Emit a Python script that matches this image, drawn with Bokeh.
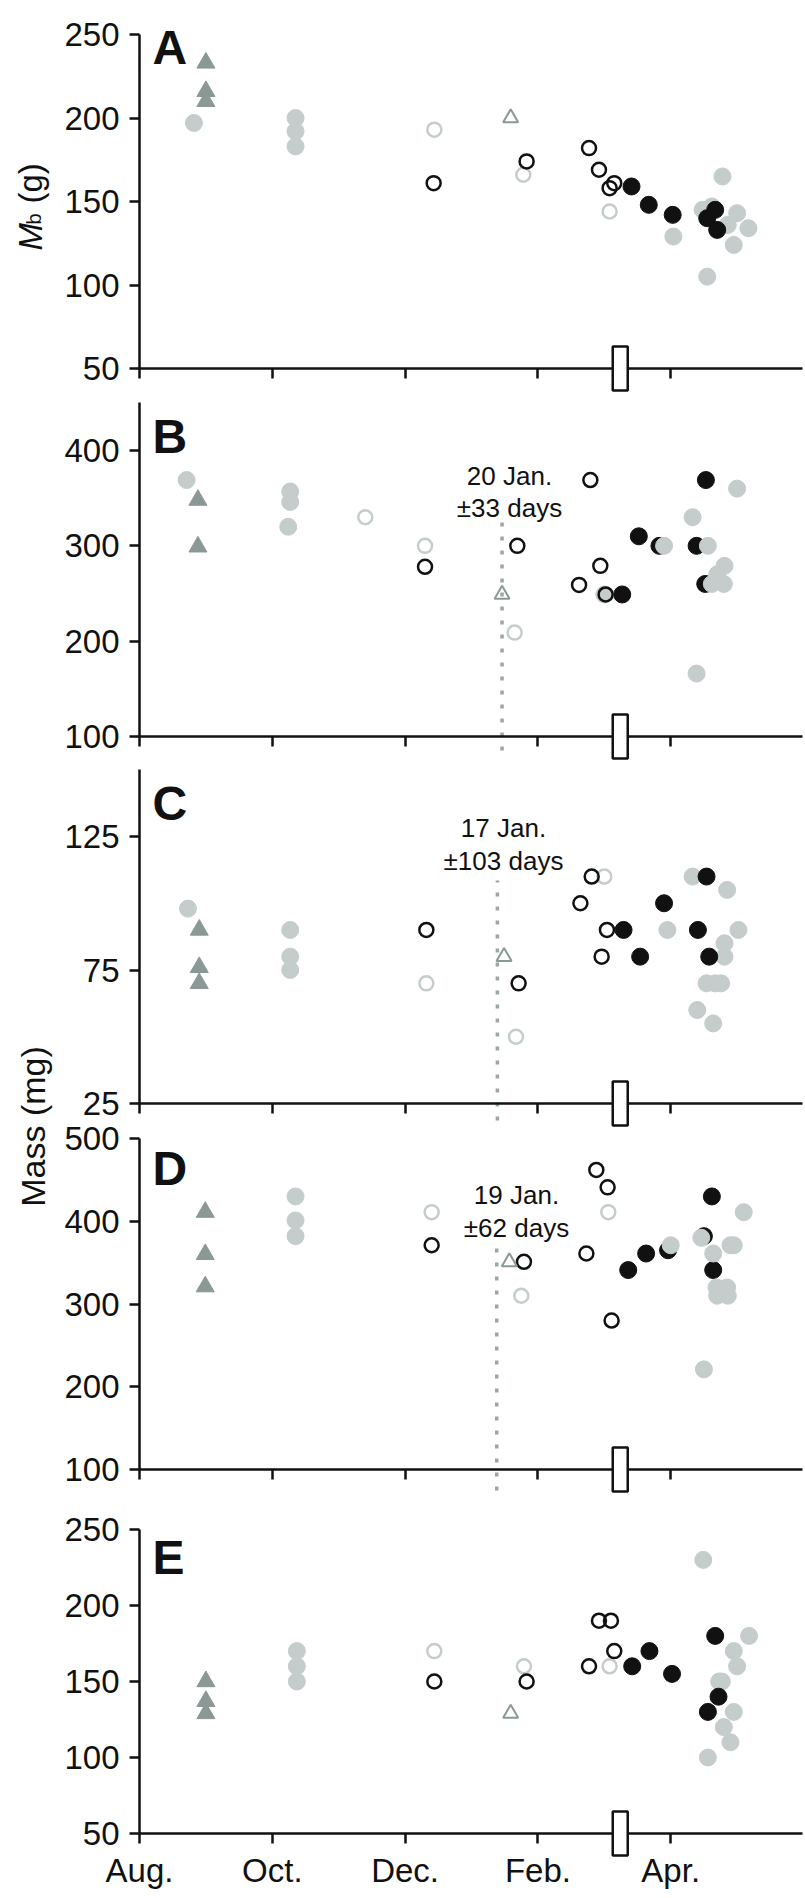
import math
from bokeh.plotting import figure
from bokeh.models import Range1d, LinearAxis, FixedTicker, Label
from bokeh.embed import file_html
from bokeh.resources import INLINE

# ---------------- data (x = months since 1 Aug) ----------------
month_ticks = [0, 2, 4, 6, 8]
month_labels = ["Aug.", "Oct.", "Dec.", "Feb.", "Apr."]
box_month = 7.24

A_tri_x = [1.0, 1.0, 1.0]
A_tri_y = [233, 216, 210]
A_lgf_x = [0.82, 2.35, 2.35, 2.35, 8.04, 8.55, 8.78, 8.48, 8.62, 8.86, 9.0, 9.17, 8.95]
A_lgf_y = [197, 200, 192, 183, 129, 105, 165, 145, 147, 136, 143, 134, 124]
A_lgo_x = [4.44, 5.78, 7.08]
A_lgo_y = [193, 166, 144]
A_bko_x = [4.43, 5.83, 6.77, 6.92, 7.15, 7.08]
A_bko_y = [161, 174, 182, 169, 161, 158]
A_gto_x = [5.59]
A_gto_y = [200]
A_bkf_x = [7.41, 7.67, 8.03, 8.55, 8.67, 8.70]
A_bkf_y = [159, 148, 142, 140, 145, 133]

B_tri_x = [0.88, 0.88]
B_tri_y = [348, 299]
B_lgf_x = [0.71, 2.27, 2.27, 2.24, 7.0, 7.9, 8.33, 8.39, 8.56, 9.0, 8.62, 8.70, 8.81, 8.80]
B_lgf_y = [369, 357, 346, 320, 249, 300, 330, 166, 300, 360, 260, 270, 279, 260]
B_lgo_x = [3.40, 4.30, 5.65]
B_lgo_y = [330, 300, 209]
B_bko_x = [4.30, 5.69, 6.79, 6.94, 6.62, 7.02]
B_bko_y = [278, 300, 369, 279, 259, 249]
B_gto_x = [5.46]
B_gto_y = [249]
B_bkf_x = [7.27, 7.52, 7.83, 8.39, 8.53, 8.52]
B_bkf_y = [249, 310, 300, 300, 369, 260]

C_tri_x = [0.9, 0.9, 0.9]
C_tri_y = [90, 76, 70]
C_lgf_x = [0.73, 2.27, 2.27, 2.27, 8.33, 8.85, 7.95, 9.02, 8.81, 8.81, 8.54, 8.67, 8.76, 8.40, 8.64]
C_lgf_y = [98, 90, 80, 75, 110, 105, 90, 90, 85, 80, 70, 70, 70, 60, 55]
C_lgo_x = [4.32, 5.67, 7.0]
C_lgo_y = [70, 50, 110]
C_bko_x = [4.32, 5.71, 6.81, 6.64, 7.04, 6.96]
C_bko_y = [90, 70, 110, 100, 90, 80]
C_gto_x = [5.49]
C_gto_y = [80]
C_bkf_x = [7.29, 7.54, 7.90, 8.54, 8.41, 8.58]
C_bkf_y = [90, 80, 100, 110, 90, 80]

D_tri_x = [0.99, 0.99, 0.99]
D_tri_y = [411, 360, 321]
D_lgf_x = [2.35, 2.35, 2.35, 8.0, 8.46, 8.5, 8.64, 8.9, 8.95, 9.1, 8.69, 8.85, 8.70, 8.86]
D_lgf_y = [430, 401, 382, 371, 380, 221, 361, 371, 371, 411, 320, 320, 310, 310]
D_lgo_x = [4.4, 5.75, 7.06]
D_lgo_y = [411, 310, 411]
D_bko_x = [4.4, 5.79, 6.88, 7.05, 6.73, 7.11]
D_bko_y = [371, 351, 462, 441, 361, 280]
D_gto_x = [5.57]
D_gto_y = [351]
D_bkf_x = [7.36, 7.63, 7.96, 8.50, 8.62, 8.64]
D_bkf_y = [341, 361, 365, 382, 430, 341]

E_tri_x = [1.0, 1.0, 1.0]
E_tri_y = [150, 137, 129]
E_lgf_x = [2.37, 2.37, 2.37, 8.49, 8.56, 8.73, 8.95, 9.0, 9.18, 8.95, 8.8, 8.9, 8.77]
E_lgf_y = [170, 160, 150, 230, 100, 150, 170, 160, 180, 130, 120, 110, 150]
E_lgo_x = [4.44, 5.79, 7.08]
E_lgo_y = [170, 160, 160]
E_bko_x = [4.44, 5.83, 6.92, 7.1, 7.15, 6.77]
E_bko_y = [150, 150, 190, 190, 170, 160]
E_gto_x = [5.59]
E_gto_y = [129]
E_bkf_x = [7.42, 7.68, 8.02, 8.67, 8.72, 8.56]
E_bkf_y = [160, 170, 155, 180, 140, 130]

ann_panels = ["B", "C", "D"]
ann_x = [5.46, 5.39, 5.38]
ann_date = ["20 Jan.", "17 Jan.", "19 Jan."]
ann_sd = ["\u00b133 days", "\u00b1103 days", "\u00b162 days"]

yticks = {"A": [50, 100, 150, 200, 250], "B": [100, 200, 300, 400],
          "C": [25, 75, 125], "D": [100, 200, 300, 400, 500], "E": [50, 100, 150, 200, 250]}
ybounds = {"A": (50, 250), "B": (100, 450), "C": (25, 150), "D": (100, 500), "E": (50, 250)}

series = {
    "A": dict(tri=(A_tri_x, A_tri_y), lgf=(A_lgf_x, A_lgf_y), lgo=(A_lgo_x, A_lgo_y),
              bko=(A_bko_x, A_bko_y), gto=(A_gto_x, A_gto_y), bkf=(A_bkf_x, A_bkf_y)),
    "B": dict(tri=(B_tri_x, B_tri_y), lgf=(B_lgf_x, B_lgf_y), lgo=(B_lgo_x, B_lgo_y),
              bko=(B_bko_x, B_bko_y), gto=(B_gto_x, B_gto_y), bkf=(B_bkf_x, B_bkf_y)),
    "C": dict(tri=(C_tri_x, C_tri_y), lgf=(C_lgf_x, C_lgf_y), lgo=(C_lgo_x, C_lgo_y),
              bko=(C_bko_x, C_bko_y), gto=(C_gto_x, C_gto_y), bkf=(C_bkf_x, C_bkf_y)),
    "D": dict(tri=(D_tri_x, D_tri_y), lgf=(D_lgf_x, D_lgf_y), lgo=(D_lgo_x, D_lgo_y),
              bko=(D_bko_x, D_bko_y), gto=(D_gto_x, D_gto_y), bkf=(D_bkf_x, D_bkf_y)),
    "E": dict(tri=(E_tri_x, E_tri_y), lgf=(E_lgf_x, E_lgf_y), lgo=(E_lgo_x, E_lgo_y),
              bko=(E_bko_x, E_bko_y), gto=(E_gto_x, E_gto_y), bkf=(E_bkf_x, E_bkf_y)),
}

# ---------------- layout (page pixel geometry; frame = whole canvas) ----------------
W, H = 805, 1896
AXIS_LEFT, AXIS_RIGHT = 139, 802
PX_PER_MONTH = 66.4

# panel calibration: (value_lo, page_y_lo, value_hi, page_y_hi)
calib = {"A": (50, 368, 250, 34), "B": (100, 736, 400, 450), "C": (25, 1103, 125, 836),
         "D": (100, 1469, 500, 1138), "E": (50, 1833, 250, 1529)}


def pv(name, page_y):
    lo, plo, hi, phi = calib[name]
    s = (plo - phi) / (hi - lo)
    return lo + (plo - page_y) / s


def mx(page_x):
    return (page_x - AXIS_LEFT) / PX_PER_MONTH


FONT = "Liberation Sans"
BLACK = "#111111"
LG = "#c5cdcc"
DG = "#8a9896"

p = figure(width=W, height=H, output_backend="svg", toolbar_location=None,
           x_range=Range1d(mx(0), mx(W)), y_range=Range1d(H, 0),
           x_axis_type=None, y_axis_type=None,
           min_border_left=0, min_border_right=0, min_border_top=0, min_border_bottom=0)
p.outline_line_color = None
p.xgrid.visible = False
p.ygrid.visible = False
p.background_fill_color = "white"
p.border_fill_color = "white"

for name in calib:
    p.extra_y_ranges[name] = Range1d(start=pv(name, H), end=pv(name, 0))


def style_axis(ax):
    ax.axis_line_width = 2.5
    ax.axis_line_color = BLACK
    ax.major_tick_line_width = 2.5
    ax.major_tick_line_color = BLACK
    ax.major_tick_out = 10
    ax.major_tick_in = 0
    ax.minor_tick_line_color = None
    ax.major_label_text_font = FONT
    ax.major_label_text_font_size = "33px"
    ax.major_label_text_color = BLACK
    ax.major_label_standoff = 10


XEND = mx(AXIS_RIGHT)
for name in calib:
    ymin, ymax = ybounds[name]
    yax = LinearAxis(y_range_name=name, fixed_location=0, bounds=(ymin, ymax),
                     ticker=FixedTicker(ticks=yticks[name]))
    style_axis(yax)
    p.add_layout(yax, "left")
    xax = LinearAxis(y_range_name=name, fixed_location=ymin, bounds=(0, XEND),
                     ticker=FixedTicker(ticks=month_ticks))
    style_axis(xax)
    if name == "E":
        xax.major_label_overrides = {t: l for t, l in zip(month_ticks, month_labels)}
        xax.major_label_standoff = 8
    else:
        xax.major_label_text_color = None
    p.add_layout(xax, "below")

# dotted mean-date lines and their annotations
line_tops = {"B": 517, "C": 880, "D": 1247}
line_bottoms = {"B": 750, "C": 1120, "D": 1490}
text_pos = {"B": (509, 475, 507), "C": (503, 827, 860), "D": (516, 1194, 1227)}
for name, xd, t1, t2 in zip(ann_panels, ann_x, ann_date, ann_sd):
    p.segment(x0=[xd], x1=[xd], y0=[pv(name, line_bottoms[name])], y1=[pv(name, line_tops[name])],
              y_range_name=name, line_color="#9ba6a6", line_width=3.5, line_dash="4 10")
    cx, b1, b2 = text_pos[name]
    for txt, by in ((t1, b1), (t2, b2)):
        p.add_layout(Label(x=mx(cx), y=by, text=txt, text_align="center",
                           text_baseline="alphabetic", text_font=FONT,
                           text_font_size="26px", text_color=BLACK))

# markers
gray_on_top = {"A": False, "B": True, "C": False, "D": True, "E": False}
for name, s in series.items():
    p.scatter(*s["tri"], y_range_name=name, marker="triangle", size=18,
              fill_color=DG, line_color=DG, line_width=1)
    order = ["bkf", "lgf"] if gray_on_top[name] else ["lgf", "bkf"]
    for key in order:
        col = LG if key == "lgf" else BLACK
        p.scatter(*s[key], y_range_name=name, marker="circle", size=17,
                  fill_color=col, line_color=col, line_width=1)
    p.scatter(*s["lgo"], y_range_name=name, marker="circle", size=14,
              fill_color=None, line_color=LG, line_width=2.5)
    p.scatter(*s["bko"], y_range_name=name, marker="circle", size=14,
              fill_color=None, line_color=BLACK, line_width=2.5)
    p.scatter(*s["gto"], y_range_name=name, marker="triangle", size=15,
              fill_color=None, line_color=DG, line_width=2)
    ymin = ybounds[name][0]
    r = p.rect(x=[box_month], y=[ymin], width=15, height=44, width_units="screen",
               height_units="screen", fill_color="white", line_color=BLACK,
               line_width=2.5, y_range_name=name)
    r.level = "overlay"

# panel letters
letter_base = {"A": 47, "B": 436, "C": 803, "D": 1168, "E": 1557}
for name, by in letter_base.items():
    p.add_layout(Label(x=mx(152), y=by, text=name, text_font=FONT, text_font_style="bold",
                       text_font_size="48px", text_color=BLACK, text_baseline="alphabetic"))

# y axis titles (rotated, reading upwards)
up = math.pi / 2
p.add_layout(Label(x=mx(30), y=250, text="M", angle=up, text_font=FONT,
                   text_font_style="italic", text_font_size="33px", text_color=BLACK,
                   text_baseline="alphabetic", text_align="left"))
p.add_layout(Label(x=mx(33), y=224, text="b", angle=up, text_font=FONT,
                   text_font_size="20px", text_color=BLACK,
                   text_baseline="alphabetic", text_align="left"))
p.add_layout(Label(x=mx(30), y=203, text="(g)", angle=up, text_font=FONT,
                   text_font_size="33px", text_color=BLACK,
                   text_baseline="alphabetic", text_align="left"))
p.add_layout(Label(x=mx(32), y=1126, text="Mass (mg)", angle=up, text_font=FONT,
                   text_font_size="34px", text_color=BLACK,
                   text_baseline="alphabetic", text_align="center"))

open("out.html", "w").write(file_html(p, INLINE))
